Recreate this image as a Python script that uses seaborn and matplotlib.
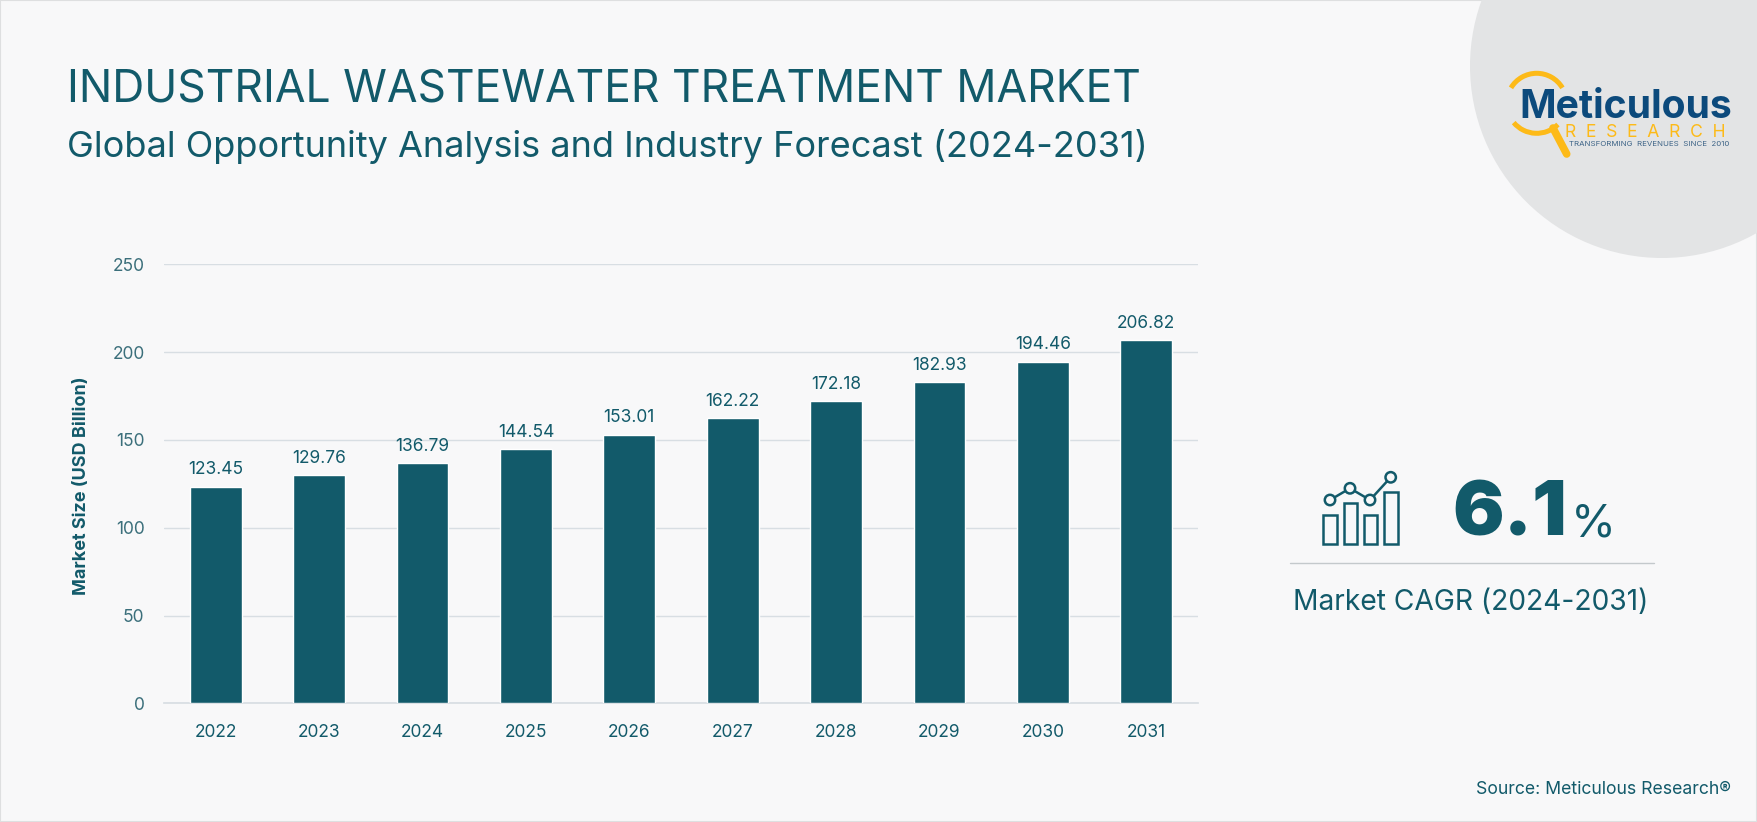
import numpy as np
import pandas as pd
import matplotlib
matplotlib.use("Agg")
import matplotlib.pyplot as plt
from matplotlib.patches import Rectangle, Circle, Arc
import seaborn as sns

# Data
years = ['2022', '2023', '2024', '2025', '2026', '2027', '2028', '2029', '2030', '2031']
market_size = [123.45, 129.76, 136.79, 144.54, 153.01, 162.22, 172.18, 182.93, 194.46, 206.82]
y_ticks = [0, 50, 100, 150, 200, 250]

TEAL = "#125A6A"
BG = "#F8F8F9"
GRID = "#D8DEE3"
YELLOW = "#FDBA18"
NAVY = "#0C4A7C"

sns.set_theme(style="white")
plt.rcParams['font.family'] = ['Inter', 'DejaVu Sans']

W, H = 1757, 822
fig = plt.figure(figsize=(W / 100, H / 100), dpi=100, facecolor=BG)

# fundo em coordenadas de pixel
bg = fig.add_axes([0, 0, 1, 1], zorder=0)
bg.set_xlim(0, W)
bg.set_ylim(H, 0)
bg.axis('off')
bg.add_patch(Rectangle((0, 0), W, H, facecolor=BG, edgecolor="#DEDFE0", linewidth=1.5))
bg.add_patch(Circle((1662, 66), 192, facecolor="#E3E4E5", edgecolor='none'))

# grafico
ax = fig.add_axes([164 / W, (H - 703.3) / H, 1034 / W, 439 / H], zorder=1)
ax.patch.set_alpha(0)
df = pd.DataFrame({'Year': years, 'Size': market_size})
sns.barplot(data=df, x='Year', y='Size', color=TEAL, saturation=1, width=0.5, ax=ax, zorder=3)
ax.set_xlim(-0.5, 9.5)
ax.set_ylim(0, 250)
ax.set_yticks(y_ticks)
ax.set_xlabel('')
ax.set_ylabel('')
ax.grid(axis='y', color=GRID, linewidth=1)
ax.set_axisbelow(True)
sns.despine(ax=ax, left=True, top=True, right=True)
ax.spines['bottom'].set_color(GRID)
ax.tick_params(axis='x', length=0, pad=15, labelsize=12.5, labelcolor=TEAL)
ax.tick_params(axis='y', length=0, pad=14, labelsize=12.5, labelcolor="#3B6F7B")
ax.bar_label(ax.containers[0], fmt='%.2f', padding=6, fontsize=12.5, color=TEAL)

# titulos
bg.text(67, 90, "INDUSTRIAL WASTEWATER TREATMENT MARKET", fontsize=32, color=TEAL, va='center', ha='left')
bg.text(67, 146, "Global Opportunity Analysis and Industry Forecast (2024-2031)", fontsize=26, color=TEAL, va='center', ha='left')
bg.text(82, 486, "Market Size (USD Billion)", fontsize=13, fontweight='bold', color=TEAL, rotation=90, va='center', ha='center')

# icone CAGR
for x0, x1, y0 in [(1323.3, 1336.7, 515), (1344, 1357.3, 502.7), (1364.3, 1377.3, 515), (1384.3, 1397.7, 491.7)]:
    bg.add_patch(Rectangle((x0, y0), x1 - x0, 544 - y0, facecolor='none', edgecolor=TEAL, linewidth=1.8))
nodes = [(1330, 500), (1350, 488.3), (1370, 500), (1390.7, 477.3)]
bg.plot([n[0] for n in nodes], [n[1] for n in nodes], color=TEAL, linewidth=1.8, zorder=2)
for n in nodes:
    bg.add_patch(Circle(n, 5.2, facecolor=BG, edgecolor=TEAL, linewidth=1.8, zorder=3))

bg.text(1452, 535, "6.1", fontsize=55, fontweight='black', color=TEAL, va='baseline', ha='left')
bg.text(1571, 536, "%", fontsize=33, color=TEAL, va='baseline', ha='left')
bg.plot([1290, 1654], [563.3, 563.3], color="#C4C9CC", linewidth=1)
bg.text(1293, 602, "Market CAGR (2024-2031)", fontsize=20.3, color=TEAL, va='center', ha='left')
bg.text(1731, 789, "Source: Meticulous Research®", fontsize=12.7, color=TEAL, va='center', ha='right')

# logo
bg.add_patch(Arc((1536.7, 103.3), 60, 60, theta1=211, theta2=329, color=YELLOW, linewidth=3.6))
bg.add_patch(Arc((1536.7, 103.3), 60, 60, theta1=45, theta2=140, color=YELLOW, linewidth=3.6))
bg.plot([1553, 1566.7], [128, 154], color=YELLOW, linewidth=5.5, solid_capstyle='round')
bg.text(1519, 118, "Meticulous", fontsize=28.2, fontweight='bold', color=NAVY, va='baseline', ha='left')
bg.text(1565, 137, "R  E  S  E  A  R  C  H", fontsize=12.6, color=YELLOW, va='baseline', ha='left')
bg.text(1569, 144, "TRANSFORMING  REVENUES  SINCE  2010", fontsize=5.65, color="#3D6487", va='center', ha='left')

fig.savefig("out.png", dpi=100, facecolor=BG)
